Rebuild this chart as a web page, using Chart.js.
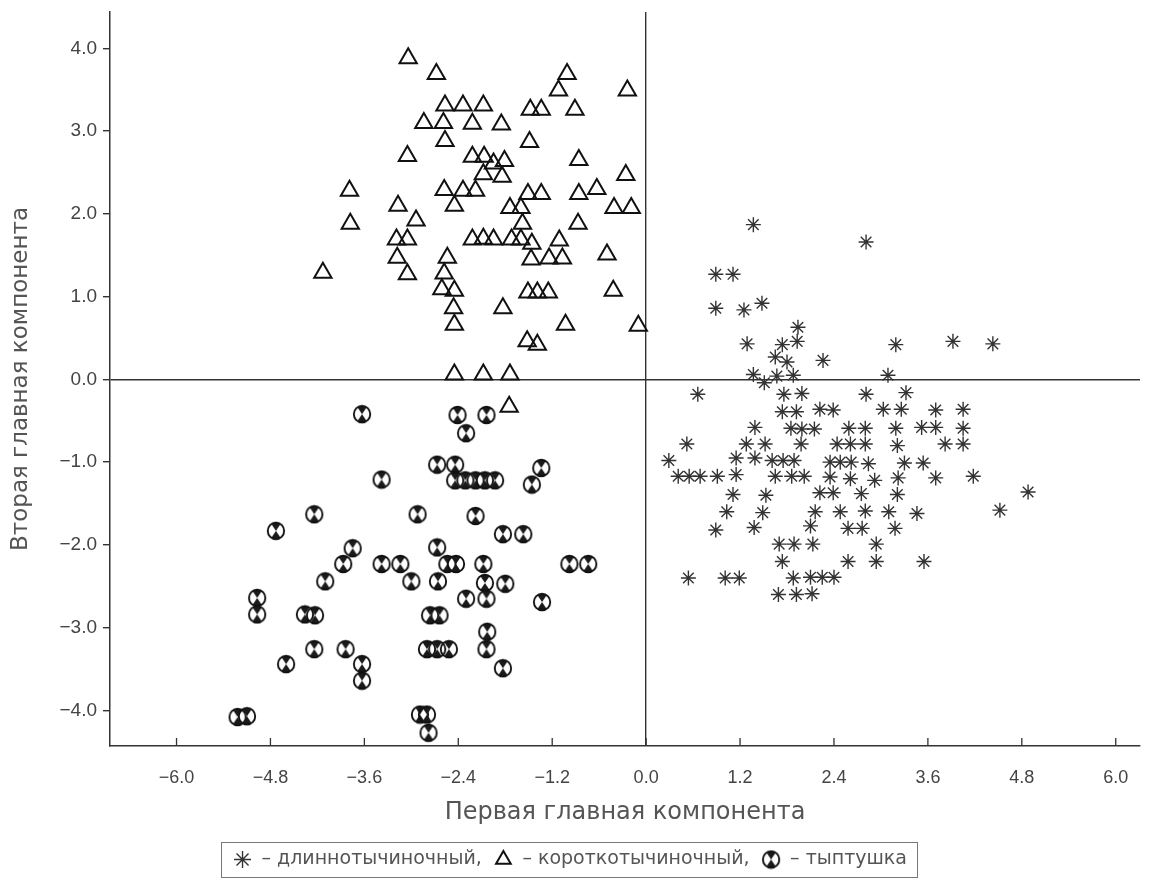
<!DOCTYPE html>
<html>
<head>
<meta charset="utf-8">
<script src="https://cdn.jsdelivr.net/npm/chart.js@4/dist/chart.umd.min.js"></script>
<style>
  html, body { margin: 0; padding: 0; background: #fff; }
  #wrap { width: 1161px; height: 883px; }
</style>
</head>
<body>
<div id="wrap"><canvas id="pcaChart"></canvas></div>
<script>
// tick positions on both axes
var xTicks = [-6.0, -4.8, -3.6, -2.4, -1.2, 0.0, 1.2, 2.4, 3.6, 4.8, 6.0];
var yTicks = [-4, -3, -2, -1, 0, 1, 2, 3, 4];

// asterisks - long-stamen form
var longStamen = [
  [1.37,1.87],[2.81,1.66],[0.89,1.27],[1.11,1.27],[0.89,0.86],[1.25,0.84],[1.48,0.92],[1.94,0.63],
  [1.29,0.43],[1.74,0.42],[1.93,0.46],[1.65,0.27],[1.80,0.21],[2.26,0.23],[1.37,0.06],[1.51,-0.04],
  [1.67,0.04],[1.88,0.05],[3.19,0.42],[3.92,0.46],[4.43,0.43],[3.09,0.05],
  [0.66,-0.18],[1.76,-0.18],[1.99,-0.17],[2.81,-0.18],[3.32,-0.16],
  [1.74,-0.39],[1.92,-0.39],[2.22,-0.36],[2.39,-0.37],[3.03,-0.36],[3.26,-0.36],[3.70,-0.37],[4.05,-0.36],
  [1.39,-0.58],[1.85,-0.59],[1.99,-0.60],[2.15,-0.60],[2.59,-0.59],[2.80,-0.59],[3.19,-0.59],[3.52,-0.58],
  [3.70,-0.58],[4.05,-0.59],
  [0.52,-0.78],[1.28,-0.78],[1.52,-0.78],[1.98,-0.78],[2.44,-0.78],[2.61,-0.78],[2.80,-0.78],[3.21,-0.80],
  [3.82,-0.78],[4.05,-0.78],
  [0.29,-0.98],[1.15,-0.95],[1.39,-0.95],[1.61,-0.98],[1.75,-0.98],[1.89,-0.98],[2.35,-1.00],[2.48,-1.00],
  [2.62,-1.00],[2.84,-1.02],[3.30,-1.01],[3.54,-1.01],
  [0.41,-1.17],[0.55,-1.17],[0.69,-1.17],[0.91,-1.17],[1.15,-1.15],[1.65,-1.17],[1.86,-1.17],[2.02,-1.17],
  [2.35,-1.18],[2.61,-1.20],[2.92,-1.22],[3.22,-1.19],[3.70,-1.19],[4.18,-1.17],
  [1.11,-1.39],[1.53,-1.40],[2.22,-1.37],[2.39,-1.37],[2.75,-1.38],[3.21,-1.39],[4.88,-1.36],
  [1.03,-1.60],[1.49,-1.61],[2.16,-1.60],[2.48,-1.60],[2.80,-1.59],[3.10,-1.60],[3.46,-1.62],[4.52,-1.58],
  [0.89,-1.82],[1.38,-1.79],[2.10,-1.77],[2.58,-1.80],[2.76,-1.80],[3.18,-1.80],
  [1.70,-1.99],[1.89,-1.99],[2.13,-1.99],[2.94,-1.99],
  [1.74,-2.20],[2.58,-2.20],[2.94,-2.20],[3.55,-2.20],
  [0.54,-2.40],[1.01,-2.40],[1.19,-2.40],[1.88,-2.40],[2.10,-2.39],[2.25,-2.39],[2.40,-2.39],
  [1.69,-2.60],[1.92,-2.60],[2.12,-2.59]
];

// triangles - short-stamen form
var shortStamen = [
  [-3.04,3.88],[-2.68,3.69],[-2.57,3.31],[-2.34,3.31],[-2.08,3.31],[-2.84,3.10],[-2.59,3.10],[-2.22,3.09],
  [-2.57,2.88],[-3.05,2.70],[-2.22,2.69],[-3.79,2.28],[-2.58,2.29],[-2.34,2.28],[-2.18,2.28],[-3.17,2.10],
  [-2.45,2.10],[-3.78,1.88],[-2.94,1.92],
  [-1.01,3.69],[-1.12,3.49],[-0.24,3.49],[-1.48,3.26],[-1.34,3.26],[-0.91,3.26],[-1.85,3.08],[-1.49,2.87],
  [-2.07,2.69],[-1.95,2.61],[-1.81,2.64],[-0.86,2.65],[-2.08,2.48],[-1.84,2.45],[-0.26,2.47],[-1.51,2.24],
  [-1.34,2.24],[-0.86,2.24],[-0.63,2.30],[-1.74,2.07],[-1.60,2.07],[-0.41,2.07],[-0.19,2.07],[-1.58,1.88],
  [-0.87,1.88],
  [-3.19,1.69],[-3.05,1.69],[-2.22,1.69],[-3.18,1.47],[-2.54,1.47],[-4.13,1.29],[-3.05,1.27],[-2.58,1.28],
  [-2.61,1.09],[-2.45,1.07],[-2.46,0.86],[-2.45,0.66],[-2.45,0.06],
  [-2.08,1.70],[-1.95,1.69],[-1.72,1.69],[-1.60,1.69],[-1.46,1.64],[-1.11,1.68],[-1.47,1.45],[-1.24,1.46],
  [-1.07,1.46],[-0.50,1.51],[-1.51,1.05],[-1.39,1.05],[-1.25,1.05],[-0.42,1.07],[-1.83,0.86],[-1.03,0.66],
  [-0.10,0.65],[-1.52,0.46],[-1.39,0.42],[-2.08,0.06],[-1.74,0.06],[-1.75,-0.33]
];

// circled marks - "тыптушка"
var typtushka = [
  [-3.63,-0.42],[-3.38,-1.21],[-4.24,-1.63],[-4.73,-1.83],[-3.75,-2.04],[-3.87,-2.23],[-3.38,-2.23],[-3.14,-2.23],
  [-2.92,-1.63],
  [-2.41,-0.43],[-2.04,-0.43],[-2.30,-0.65],[-2.67,-1.03],[-2.44,-1.03],[-2.44,-1.22],[-2.31,-1.22],[-2.18,-1.22],
  [-2.06,-1.22],[-1.93,-1.22],[-1.34,-1.07],[-1.46,-1.27],[-2.18,-1.65],[-1.83,-1.87],[-1.57,-1.87],[-2.67,-2.03],
  [-2.54,-2.23],[-2.43,-2.23],[-2.08,-2.23],[-0.98,-2.23],[-0.74,-2.23],
  [-4.10,-2.44],[-3.00,-2.44],[-4.97,-2.64],[-4.97,-2.84],[-4.36,-2.84],[-4.23,-2.85],[-4.24,-3.26],[-3.84,-3.26],
  [-4.60,-3.44],[-3.63,-3.44],[-3.63,-3.64],[-5.22,-4.08],[-5.10,-4.07],
  [-2.66,-2.44],[-2.06,-2.46],[-1.80,-2.47],[-2.30,-2.65],[-2.04,-2.65],[-1.33,-2.69],[-2.76,-2.85],[-2.64,-2.85],
  [-2.03,-3.05],[-2.04,-3.26],[-2.80,-3.26],[-2.67,-3.26],[-2.52,-3.26],[-1.83,-3.49],[-2.89,-4.05],[-2.80,-4.05],
  [-2.78,-4.27]
];

var FONT = "'Liberation Sans', Arial, sans-serif";
var WIDE_FONT = "'DejaVu Sans', Verdana, sans-serif";

function toPoints(arr) {
  return arr.map(function(p) { return { x: p[0], y: p[1] }; });
}

function fmt(v) {
  return (v < 0 ? '\u2212' : '') + Math.abs(v).toFixed(1);
}

// circle with dark hourglass inside
function makeCircleMark() {
  var c = document.createElement('canvas');
  c.width = 20; c.height = 20;
  var g = c.getContext('2d');
  g.save();
  g.beginPath();
  g.arc(10, 10, 8.2, 0, Math.PI * 2);
  g.clip();
  g.fillStyle = '#1a1a1a';
  g.beginPath(); g.moveTo(4, 1); g.lineTo(16, 1); g.lineTo(10, 10); g.closePath(); g.fill();
  g.beginPath(); g.moveTo(4, 19); g.lineTo(16, 19); g.lineTo(10, 10); g.closePath(); g.fill();
  g.restore();
  g.beginPath();
  g.arc(10, 10, 8.2, 0, Math.PI * 2);
  g.lineWidth = 1.9;
  g.strokeStyle = '#111';
  g.stroke();
  return c;
}

// x tick marks point up into the plot
var innerTicks = {
  id: 'innerTicks',
  afterDatasetsDraw: function(chart) {
    var ctx = chart.ctx, xs = chart.scales.x, a = chart.chartArea;
    ctx.save();
    ctx.strokeStyle = '#333';
    ctx.lineWidth = 1.3;
    ctx.beginPath();
    xTicks.forEach(function(v) {
      var px = xs.getPixelForValue(v);
      ctx.moveTo(px, a.bottom);
      ctx.lineTo(px, a.bottom - 8);
    });
    ctx.stroke();
    ctx.restore();
  }
};

// thin frame round the legend
var legendFrame = {
  id: 'legendFrame',
  afterDraw: function(chart) {
    var boxes = chart.legend && chart.legend.legendHitBoxes;
    if (!boxes || !boxes.length) return;
    var last = boxes[boxes.length - 1];
    var l = boxes[0].left - 12;
    var r = last.left + last.width + 10;
    var t = boxes[0].top - 8;
    var b = boxes[0].top + boxes[0].height + 8;
    var ctx = chart.ctx;
    ctx.save();
    ctx.strokeStyle = '#777';
    ctx.lineWidth = 1;
    ctx.strokeRect(Math.round(l) + 0.5, Math.round(t) + 0.5, Math.round(r - l), Math.round(b - t));
    ctx.restore();
  }
};

var ctx = document.getElementById('pcaChart').getContext('2d');

var pcaChart = new Chart(ctx, {
  type: 'scatter',
  data: {
    datasets: [
      {
        label: '\u2013 длиннотычиночный,',
        data: toPoints(longStamen),
        pointStyle: 'star',
        pointRadius: 7.5,
        pointBorderWidth: 1.4,
        borderColor: '#333',
        backgroundColor: '#333'
      },
      {
        label: '\u2013 короткотычиночный,',
        data: toPoints(shortStamen),
        pointStyle: 'triangle',
        pointRadius: 10,
        pointBorderWidth: 2,
        borderColor: '#111',
        backgroundColor: 'rgba(0,0,0,0)'
      },
      {
        label: '\u2013 тыптушка',
        data: toPoints(typtushka),
        pointStyle: makeCircleMark(),
        pointRadius: 8,
        borderColor: '#111',
        backgroundColor: '#111'
      }
    ]
  },
  options: {
    responsive: true,
    maintainAspectRatio: false,
    animation: false,
    layout: { padding: { top: 0, right: 21, bottom: 4, left: 0 } },
    plugins: {
      tooltip: { enabled: false },
      legend: {
        position: 'bottom',
        labels: {
          usePointStyle: true,
          boxHeight: 12,
          padding: 12,
          color: '#555',
          font: { family: WIDE_FONT, size: 19 }
        }
      }
    },
    scales: {
      x: {
        type: 'linear',
        min: -6.85,
        max: 6.31,
        afterBuildTicks: function(scale) {
          scale.ticks = xTicks.map(function(v) { return { value: v }; });
        },
        afterFit: function(scale) { scale.height = 92; },
        ticks: {
          callback: function(value) { return fmt(value); },
          color: '#444',
          padding: 21,
          font: { family: FONT, size: 18 }
        },
        grid: {
          color: function(c) { return c.tick && c.tick.value === 0 ? '#333' : 'rgba(0,0,0,0)'; },
          lineWidth: 1.4,
          drawTicks: false
        },
        border: { color: '#333', width: 1.5 },
        title: {
          display: true,
          text: 'Первая главная компонента',
          color: '#555',
          padding: { top: 0, bottom: 11 },
          font: { family: WIDE_FONT, size: 24 }
        }
      },
      y: {
        type: 'linear',
        min: -4.43,
        max: 4.44,
        afterBuildTicks: function(scale) {
          scale.ticks = yTicks.map(function(v) { return { value: v }; });
        },
        afterFit: function(scale) {
          scale.width = 110;
          scale.paddingTop = 0;
          scale.paddingBottom = 0;
        },
        ticks: {
          callback: function(value) { return fmt(value); },
          color: '#444',
          padding: 6,
          font: { family: FONT, size: 19 }
        },
        grid: {
          color: function(c) { return c.tick && c.tick.value === 0 ? '#333' : 'rgba(0,0,0,0)'; },
          lineWidth: 1.4,
          tickColor: '#333',
          tickLength: 7
        },
        border: { color: '#333', width: 1.5 },
        title: {
          display: true,
          text: 'Вторая главная компонента',
          color: '#555',
          padding: { top: 7, bottom: 0 },
          font: { family: WIDE_FONT, size: 23 }
        }
      }
    }
  },
  plugins: [innerTicks, legendFrame]
});
</script>
</body>
</html>
